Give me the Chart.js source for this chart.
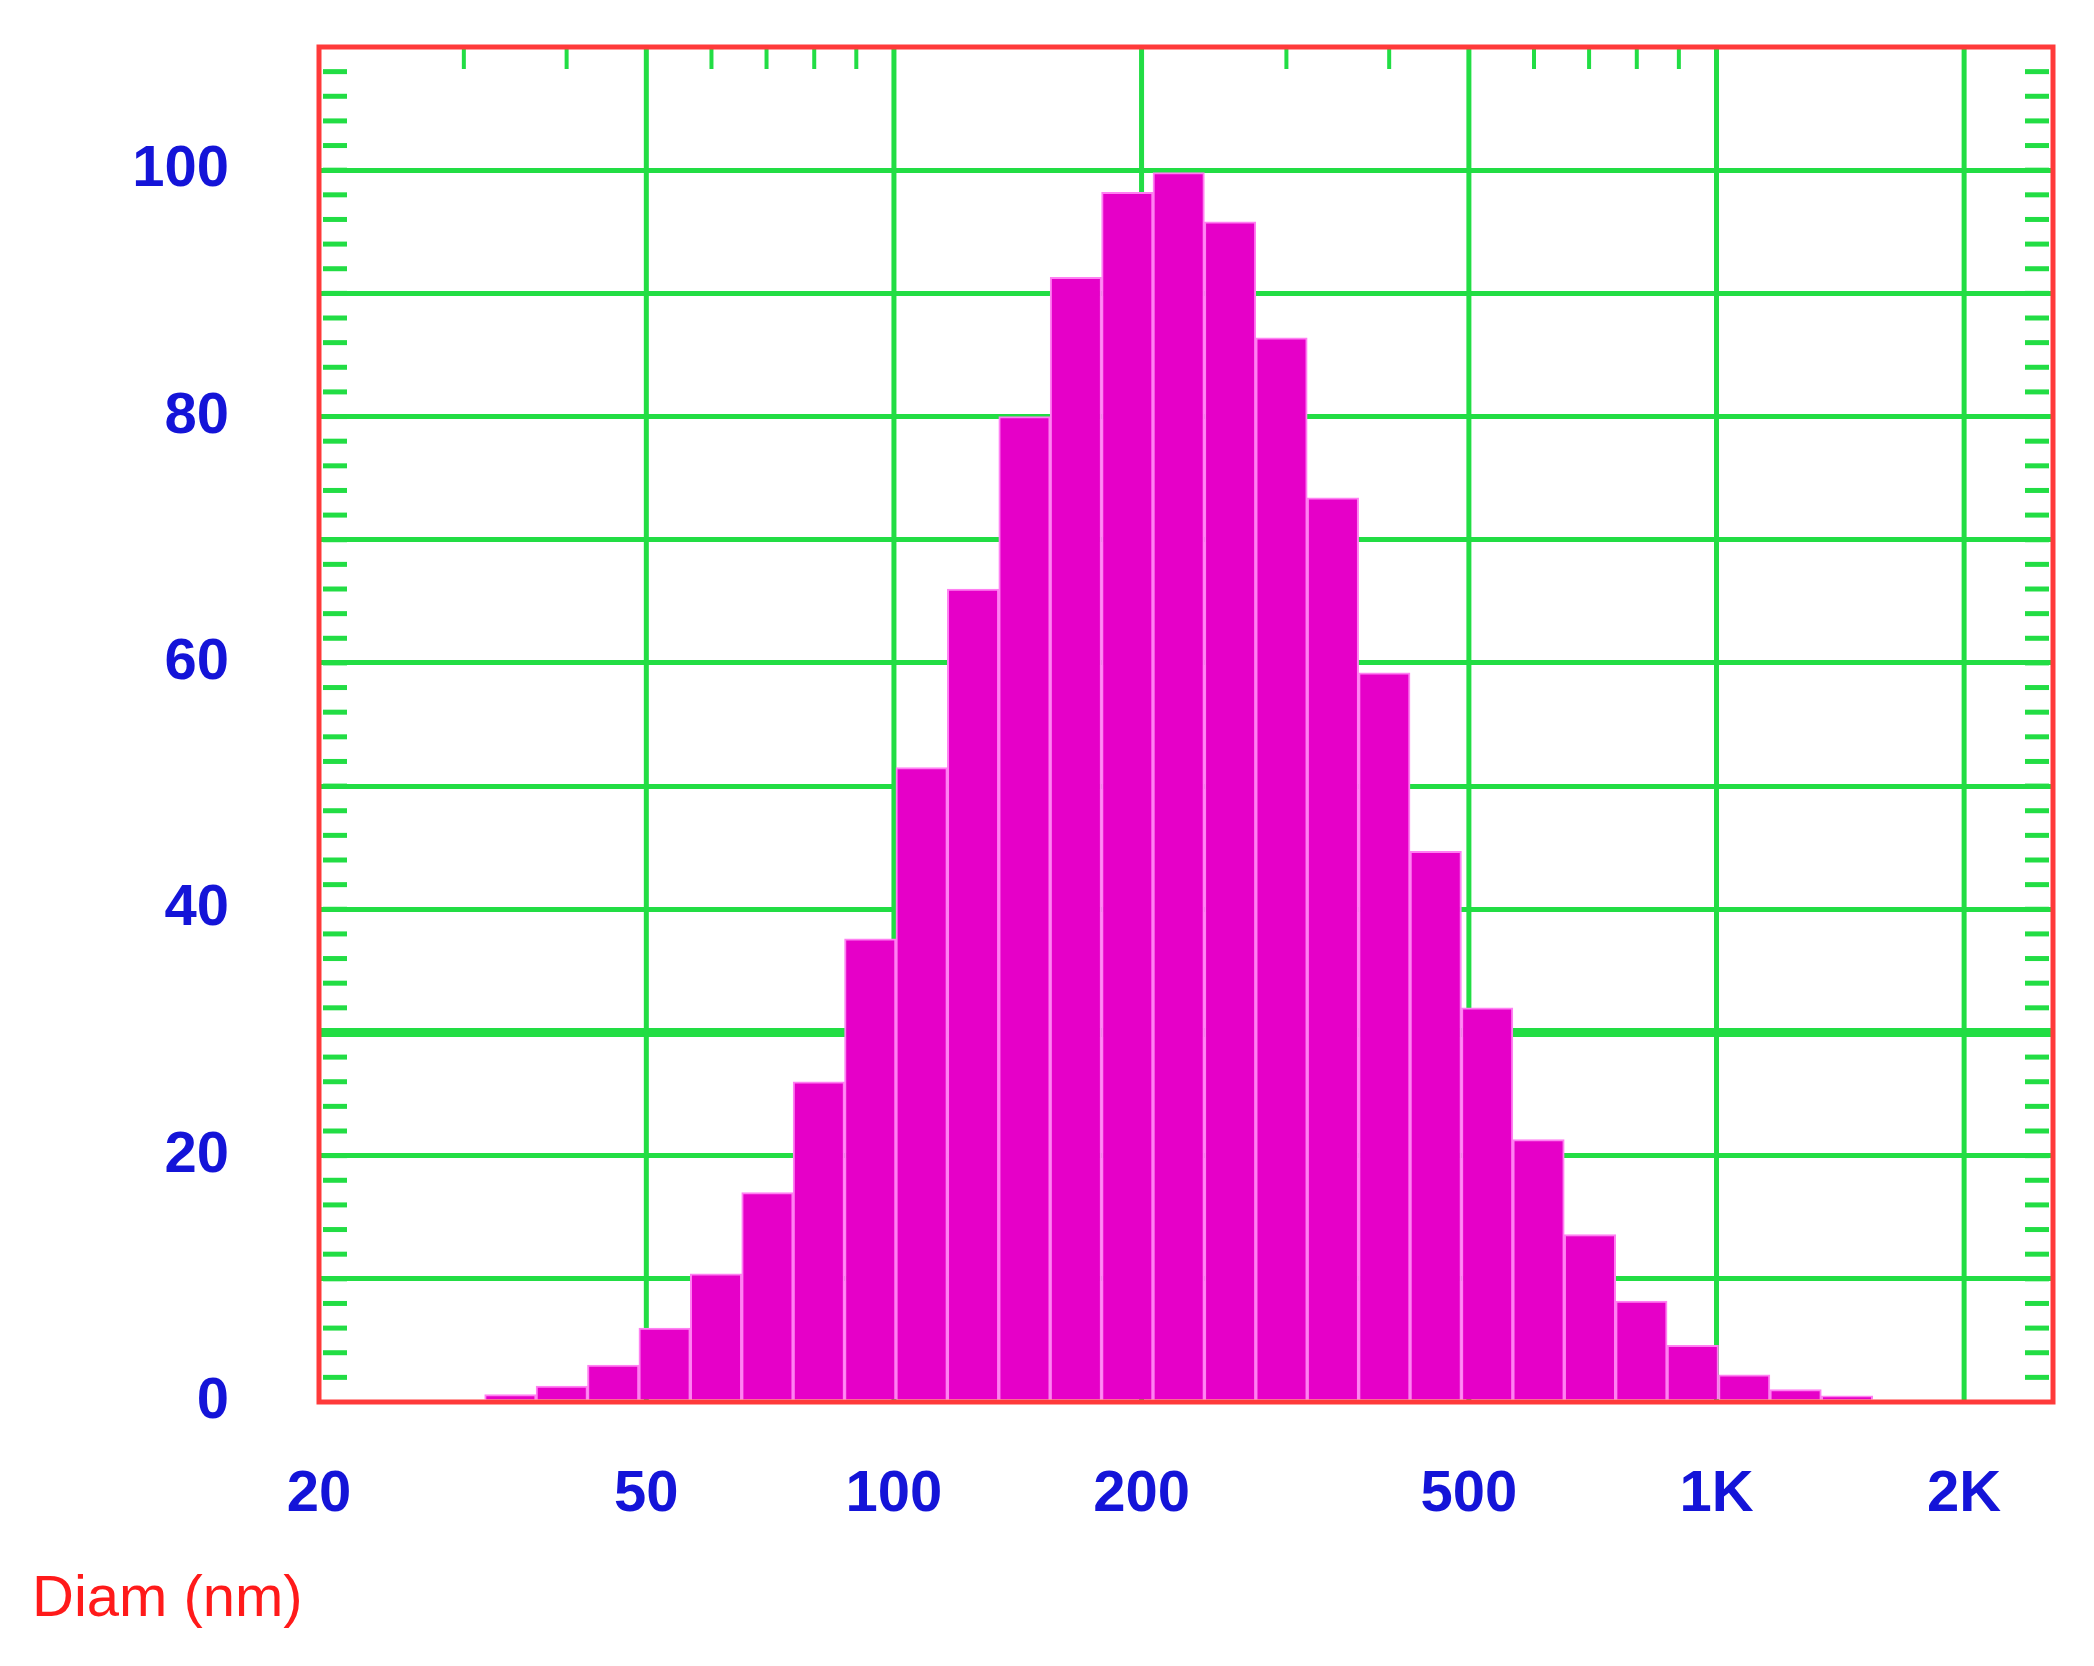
<!DOCTYPE html>
<html><head><meta charset="utf-8">
<script src="https://cdn.jsdelivr.net/npm/chart.js@4"></script>
<style>html,body{margin:0;padding:0;background:#fff}#w{width:2094px;height:1666px}</style>
</head><body><div id="w"><canvas id="c"></canvas></div>
<script>
const binStart = 31.8;          // nm, left edge of first bin
const binsPerDecade = 16;
const intensity = [0.6,1.3,3,6,10.4,17,26,37.6,51.5,66,80,91.3,98.2,99.8,95.8,86.4,73.4,59.2,44.7,32,21.3,13.6,8.2,4.6,2.2,1,0.5];
const xTickValues = [50,100,200,500,1000,2000];
const xTickLabels = ['50','100','200','500','1K','2K'];
const xMinorTicks = [30,40,60,70,80,90,300,400,600,700,800,900];
const yLabels = [0,20,40,60,80,100];

const L = Math.log10;
const pts = intensity.map((v,i)=>({x: L(binStart)+(i+0.5)/binsPerDecade, y:v}));
const font = {family:"'Liberation Sans Narrow','Liberation Sans',Arial,sans-serif", size:58, weight:'bold'};

const grid = {
  id:'grid',
  beforeDatasetsDraw(ch){
    const c=ch.ctx, a=ch.chartArea, x=ch.scales.x;
    c.save(); c.strokeStyle='#22dd44'; c.lineWidth=5;
    xTickValues.forEach(t=>{const p=x.getPixelForValue(L(t));
      c.beginPath(); c.moveTo(p,a.top); c.lineTo(p,a.bottom); c.stroke();});
    c.restore();
  },
  afterDraw(ch){
    const c=ch.ctx, a=ch.chartArea, x=ch.scales.x, y=ch.scales.y;
    c.save();
    c.strokeStyle='#22dd44'; c.lineWidth=5;
    for(let v=2; v<110; v+=2){
      const p=y.getPixelForValue(v);
      c.beginPath(); c.moveTo(a.left+4,p); c.lineTo(a.left+28,p); c.stroke();
      c.beginPath(); c.moveTo(a.right-28,p); c.lineTo(a.right-4,p); c.stroke();
    }
    c.lineWidth=4;
    xMinorTicks.forEach(t=>{const p=x.getPixelForValue(L(t));
      c.beginPath(); c.moveTo(p,a.top); c.lineTo(p,a.top+22); c.stroke();});
    c.strokeStyle='#ff3a3a'; c.lineWidth=5;
    c.strokeRect(a.left,a.top,a.right-a.left,a.bottom-a.top);
    c.fillStyle='#ff1a1a'; c.font="58px 'Liberation Sans Narrow','Liberation Sans',sans-serif";
    c.textBaseline='middle'; c.textAlign='left';
    c.fillText('Diam (nm)',32,1600);
    c.restore();
  }
};

new Chart(document.getElementById('c'),{
  type:'bar',
  data:{datasets:[{data:pts, backgroundColor:'#e600c8', borderColor:'#ff80f2', borderWidth:2,
    categoryPercentage:1, barPercentage:1, borderSkipped:'bottom'}]},
  options:{
    responsive:true, maintainAspectRatio:false, animation:false,
    plugins:{legend:{display:false},tooltip:{enabled:false}},
    layout:{padding:{top:47,right:41,left:0,bottom:0}},
    scales:{
      x:{type:'linear', min:L(20), max:L(2565), offset:false,
        afterFit(s){s.height=264;},
        afterBuildTicks(s){s.ticks=[{value:L(20)},...xTickValues.map(v=>({value:L(v)}))];},
        ticks:{color:'#1414d8', font, padding:50, maxRotation:0, autoSkip:false,
          callback(v){const r=Math.round(Math.pow(10,v)); if(r===20) return '20'; const i=xTickValues.indexOf(r); return i>=0?xTickLabels[i]:'';}},
        grid:{display:false},
        border:{display:false}},
      y:{min:0,max:110, afterFit(s){s.width=319; s.paddingTop=0; s.paddingBottom=0;},
        afterBuildTicks(s){const t=[];for(let v=0;v<=100;v+=10)t.push({value:v});s.ticks=t;},
        ticks:{color:'#1414d8', font, padding:90,
          callback(v){return yLabels.includes(v)?String(v):'';}},
        grid:{color:(c)=>c.tick&&c.tick.value===0?'rgba(0,0,0,0)':'#22dd44', lineWidth:(c)=>c.tick&&c.tick.value===30?9:5, drawTicks:false},
        border:{display:false}}
    }
  },
  plugins:[grid]
});
</script></body></html>
